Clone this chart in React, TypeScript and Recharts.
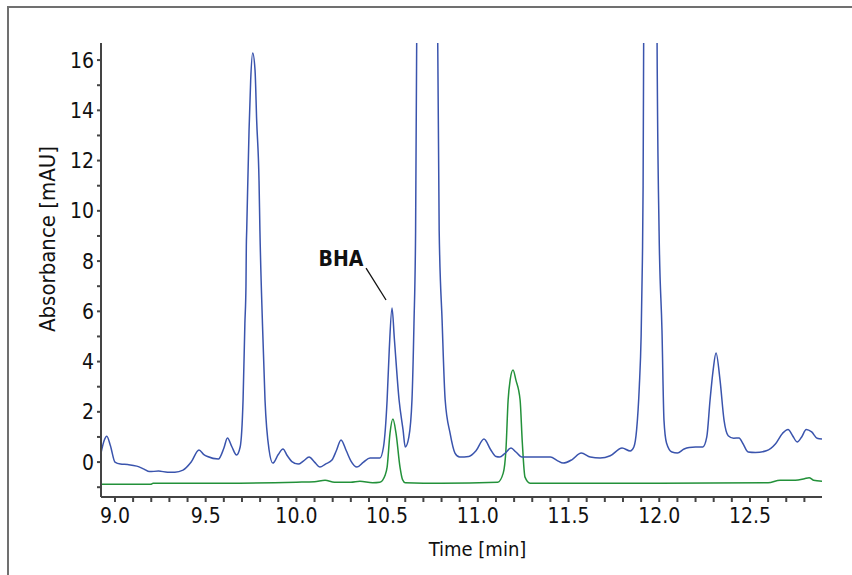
import { LineChart, Line, XAxis, YAxis, ReferenceLine, ReferenceDot } from 'recharts'

// blue trace (time in min, absorbance in mAU)
const blueTime = [
  8.923, 8.94, 8.955, 8.975, 9.0, 9.03, 9.07, 9.12, 9.16, 9.19, 9.24, 9.29, 9.33, 9.375, 9.42, 9.463,
  9.49, 9.51, 9.57, 9.6, 9.62, 9.645, 9.67, 9.69, 9.706, 9.716, 9.722, 9.724, 9.726, 9.739, 9.748, 9.759,
  9.772, 9.781, 9.794, 9.799, 9.813, 9.827, 9.849, 9.87, 9.9, 9.926, 9.95, 9.975, 10.01, 10.04, 10.07,
  10.1, 10.13, 10.16, 10.196, 10.22, 10.246, 10.275, 10.3, 10.334, 10.37, 10.406, 10.46, 10.48, 10.5,
  10.512, 10.527, 10.54, 10.566, 10.588, 10.6, 10.62, 10.637, 10.648, 10.657, 10.663, 10.668, 10.774,
  10.779, 10.787, 10.803, 10.82, 10.847, 10.874, 10.9, 10.95, 10.99, 11.034, 11.07, 11.1, 11.12, 11.15,
  11.183, 11.21, 11.243, 11.3, 11.4, 11.44, 11.47, 11.52, 11.57, 11.62, 11.674, 11.73, 11.795, 11.84,
  11.86, 11.875, 11.89, 11.9, 11.907, 11.911, 11.914, 11.92, 11.982, 11.988, 11.999, 12.015, 12.026,
  12.04, 12.07, 12.1, 12.137, 12.165, 12.2, 12.24, 12.262, 12.28, 12.297, 12.313, 12.335, 12.357, 12.38,
  12.41, 12.44, 12.46, 12.49, 12.53, 12.59, 12.64, 12.68, 12.71, 12.735, 12.76, 12.785, 12.81, 12.84,
  12.87, 12.897
]
const blueAbs = [
  0.36, 0.85, 1.03, 0.65, 0.0, -0.08, -0.1, -0.16, -0.28, -0.38, -0.36, -0.4, -0.4, -0.32, 0.0, 0.48,
  0.3, 0.22, 0.12, 0.55, 0.96, 0.6, 0.28, 0.6, 2.47, 5.5, 7.0, 8.6, 9.2, 13.2, 15.2, 16.28,
  15.6, 13.6, 11.2, 9.2, 5.5, 2.47, 0.5, -0.04, 0.3, 0.52, 0.25, 0.02, -0.08, 0.05, 0.2,
  0.0, -0.2, -0.08, 0.08, 0.45, 0.88, 0.45, 0.05, -0.2, 0.0, 0.16, 0.16, 0.6, 2.47,
  4.5, 6.13, 4.9, 2.47, 1.27, 0.6, 1.0, 2.47, 5.5, 9.2, 16.7, 30, 30,
  16.7, 9.2, 5.65, 2.47, 1.15, 0.36, 0.2, 0.22, 0.45, 0.92, 0.5, 0.22, 0.2, 0.35,
  0.56, 0.4, 0.2, 0.2, 0.2, 0.05, -0.04, 0.1, 0.36, 0.2, 0.16, 0.25, 0.56, 0.44,
  0.6, 1.27, 3.0, 5.0, 8.0, 11.0, 16.7, 30, 30, 16.7, 9.2, 5.25, 1.67,
  0.76, 0.4, 0.36, 0.52, 0.58, 0.6, 0.6, 1.0, 2.47, 3.66, 4.34, 3.26, 1.67, 1.05,
  0.95, 0.96, 0.75, 0.4, 0.38, 0.45, 0.72, 1.15, 1.3, 1.05, 0.8, 1.0, 1.3, 1.2,
  0.95, 0.92
]

// green trace
const greenTime = [
  8.923, 9.2, 9.21, 9.6, 10.0, 10.1, 10.158, 10.21, 10.3, 10.35, 10.42, 10.46, 10.49, 10.5, 10.516,
  10.532, 10.549, 10.571, 10.585, 10.6, 10.8, 11.11, 11.14, 11.155, 11.167, 11.178, 11.194, 11.21,
  11.233, 11.245, 11.26, 11.288, 12.0, 12.6, 12.666, 12.75, 12.8, 12.826, 12.85, 12.897
]
const greenAbs = [
  -0.88, -0.88, -0.84, -0.84, -0.8, -0.78, -0.72, -0.8, -0.8, -0.76, -0.82, -0.8, -0.5, -0.2, 1.15,
  1.71, 1.15, -0.2, -0.7, -0.82, -0.84, -0.8, -0.44, 0.5, 2.47, 3.26, 3.66, 3.26,
  2.47, 0.8, -0.6, -0.84, -0.84, -0.82, -0.72, -0.72, -0.66, -0.62, -0.72, -0.76
]

const timeTicks = [
  9.0, 9.1, 9.2, 9.3, 9.4, 9.5, 9.6, 9.7, 9.8, 9.9, 10.0, 10.1, 10.2, 10.3, 10.4, 10.5, 10.6, 10.7,
  10.8, 10.9, 11.0, 11.1, 11.2, 11.3, 11.4, 11.5, 11.6, 11.7, 11.8, 11.9, 12.0, 12.1, 12.2, 12.3,
  12.4, 12.5, 12.6, 12.7, 12.8
]
const absTicks = [-1, 0, 1, 2, 3, 4, 5, 6, 7, 8, 9, 10, 11, 12, 13, 14, 15, 16]

const blueData = blueTime.map((t, i) => ({ t, a: blueAbs[i] }))
const greenData = greenTime.map((t, i) => ({ t, a: greenAbs[i] }))

const font = "'Liberation Sans Narrow', 'DejaVu Sans Condensed', 'Liberation Sans', sans-serif"
const axisColor = '#444'

const fmtTime = (v: number) => (Math.abs(v * 2 - Math.round(v * 2)) < 1e-6 ? v.toFixed(1) : '')
const fmtAbs = (v: number) => (v >= 0 && v % 2 === 0 ? String(v) : '')

const YTitle = ({ viewBox }: any) => {
  const x = viewBox.x + viewBox.width - 54
  const y = viewBox.y + viewBox.height / 2 - 31
  return (
    <text x={x} y={y} transform={`rotate(-90 ${x} ${y})`} textAnchor="middle" dominantBaseline="central"
      fontFamily={font} fontSize={22} fill="#111">
      Absorbance [mAU]
    </text>
  )
}

const XTitle = ({ viewBox }: any) => {
  const x = viewBox.x + viewBox.width / 2 + 16
  const y = viewBox.y + 59
  return (
    <text x={x} y={y} textAnchor="middle" fontFamily={font} fontSize={20} fill="#111">
      Time [min]
    </text>
  )
}

export default function App() {
  return (
    <div style={{ position: 'absolute', left: 0, top: 0, width: 852, height: 575, background: '#fff' }}>
      <div style={{ position: 'absolute', left: 7, top: 6, right: 0, bottom: 0, borderTop: '2px solid #707070', borderLeft: '2px solid #707070' }} />
      <LineChart width={852} height={575} margin={{ top: 43, right: 30, bottom: 48, left: 41 }}>
        <XAxis
          type="number"
          dataKey="t"
          domain={[8.923, 12.897]}
          ticks={timeTicks}
          tickFormatter={fmtTime}
          interval={0}
          height={30}
          allowDataOverflow
          stroke={axisColor}
          strokeWidth={2}
          tickSize={5}
          tickMargin={6}
          tick={{ fontFamily: font, fontSize: 21, fill: '#111' }}
          label={<XTitle />}
        />
        <YAxis
          type="number"
          dataKey="a"
          domain={[-1.39, 16.68]}
          ticks={absTicks}
          tickFormatter={fmtAbs}
          interval={0}
          width={60}
          allowDataOverflow
          stroke={axisColor}
          strokeWidth={2}
          tickSize={4}
          tickMargin={3}
          tick={{ fontFamily: font, fontSize: 21, fill: '#111' }}
          label={<YTitle />}
        />
        <Line data={greenData} dataKey="a" type="monotone" stroke="#23913a" strokeWidth={1.5} dot={false} isAnimationActive={false} />
        <Line data={blueData} dataKey="a" type="monotone" stroke="#3a54ad" strokeWidth={1.5} dot={false} isAnimationActive={false} />
        <ReferenceLine segment={[{ x: 10.384, y: 7.72 }, { x: 10.494, y: 6.45 }]} stroke="#111" strokeWidth={1.3} />
        <ReferenceDot x={10.246} y={8.12} r={0} fill="none" stroke="none"
          label={{ value: 'BHA', position: 'center', fontFamily: font, fontSize: 21, fontWeight: 'bold', fill: '#111' }} />
      </LineChart>
    </div>
  )
}
